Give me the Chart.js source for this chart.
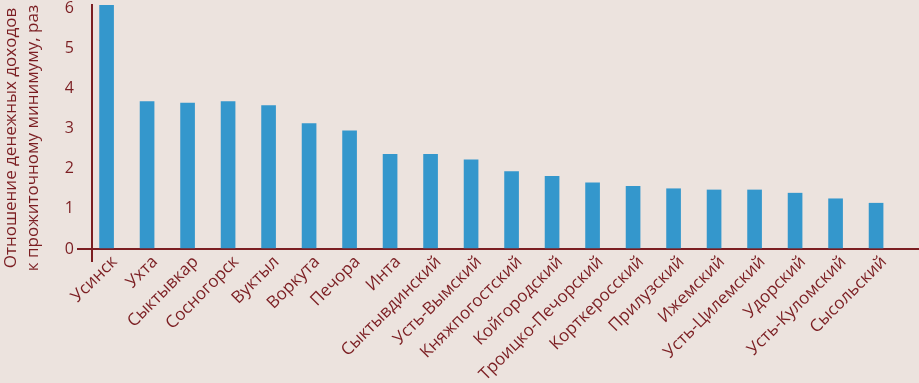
<!DOCTYPE html>
<html>
<head>
<meta charset="utf-8">
<script src="https://cdn.jsdelivr.net/npm/chart.js@4/dist/chart.umd.min.js"></script>
<style>
  html, body { margin: 0; padding: 0; background: #ece3de; }
  #wrap { width: 919px; height: 383px; }
</style>
</head>
<body>
<div id="wrap"><canvas id="chart"></canvas></div>
<script>
const categories = ["Усинск", "Ухта", "Сыктывкар", "Сосногорск", "Вуктыл", "Воркута", "Печора", "Инта",
    "Сыктывдинский", "Усть-Вымский", "Княжпогостский", "Койгородский", "Троицко-Печорский",
    "Корткеросский", "Прилузский", "Ижемский", "Усть-Цилемский", "Удорский", "Усть-Куломский", "Сысольский"];
const ratios = [6.08, 3.67, 3.63, 3.67, 3.57, 3.12, 2.94, 2.36, 2.36, 2.22, 1.93, 1.81, 1.65, 1.56, 1.50, 1.47, 1.47, 1.39, 1.25, 1.14];
const yTicks = [0, 1, 2, 3, 4, 5, 6];
const yTitle = ["Отношение денежных доходов", "к прожиточному минимуму, раз"];

const dark = "#7b1e22";
const barColor = "#3497cc";
// x range in category units: the first bar sits a bit off the y axis
const xMin = -0.36;
const xMax = 20.06;

document.addEventListener("DOMContentLoaded", () => {
    const ctx = document.getElementById("chart").getContext("2d");
    const points = ratios.map((v, i) => ({ x: i, y: v }));

    new Chart(ctx, {
        type: "bar",
        data: {
            datasets: [{
                data: points,
                backgroundColor: barColor,
                barThickness: 14
            }]
        },
        options: {
            responsive: true,
            maintainAspectRatio: false,
            animation: false,
            layout: { padding: { top: 5, right: 0, left: 0, bottom: 0 } },
            plugins: { legend: { display: false }, tooltip: { enabled: false } },
            scales: {
                x: {
                    type: "linear",
                    offset: false,
                    min: xMin,
                    max: xMax,
                    afterBuildTicks: (scale) => {
                        scale.ticks = [{ value: xMin }].concat(categories.map((c, i) => ({ value: i })));
                    },
                    afterFit: (scale) => {
                        scale.height = 134;
                        scale.paddingLeft = 0;
                        scale.paddingRight = 0;
                    },
                    ticks: {
                        autoSkip: false,
                        minRotation: 45,
                        maxRotation: 45,
                        color: dark,
                        padding: -10,
                        labelOffset: 8,
                        font: { family: "'Open Sans'", size: 17 },
                        callback: (value) => Number.isInteger(value) ? (categories[value] || "") : ""
                    },
                    grid: {
                        offset: false,
                        drawOnChartArea: false,
                        tickLength: 13,
                        lineWidth: 2,
                        color: (c) => (c.tick && c.tick.value === xMin) ? dark : "rgba(0,0,0,0)"
                    },
                    border: { display: true, color: dark, width: 2 }
                },
                y: {
                    min: 0,
                    max: 6.075,
                    afterBuildTicks: (scale) => {
                        scale.ticks = yTicks.map(v => ({ value: v }));
                    },
                    afterFit: (scale) => {
                        scale.width = 92;
                        scale.paddingTop = 0;
                        scale.paddingBottom = 0;
                    },
                    ticks: {
                        color: dark,
                        padding: 3,
                        font: { family: "'Open Sans'", size: 16 }
                    },
                    grid: {
                        tickLength: 15,
                        lineWidth: 2,
                        color: (c) => (c.tick && c.tick.value === 0) ? dark : "rgba(0,0,0,0)"
                    },
                    border: { display: true, color: dark, width: 2 },
                    title: {
                        display: true,
                        // trailing spaces nudge the rotated title a little lower
                        text: yTitle.map(s => s + "\u00a0\u00a0\u00a0\u00a0\u00a0"),
                        color: dark,
                        padding: { top: 0, bottom: 3 },
                        font: { family: "'Open Sans'", size: 17, lineHeight: 1.3 }
                    }
                }
            }
        }
    });
});
</script>
</body>
</html>
